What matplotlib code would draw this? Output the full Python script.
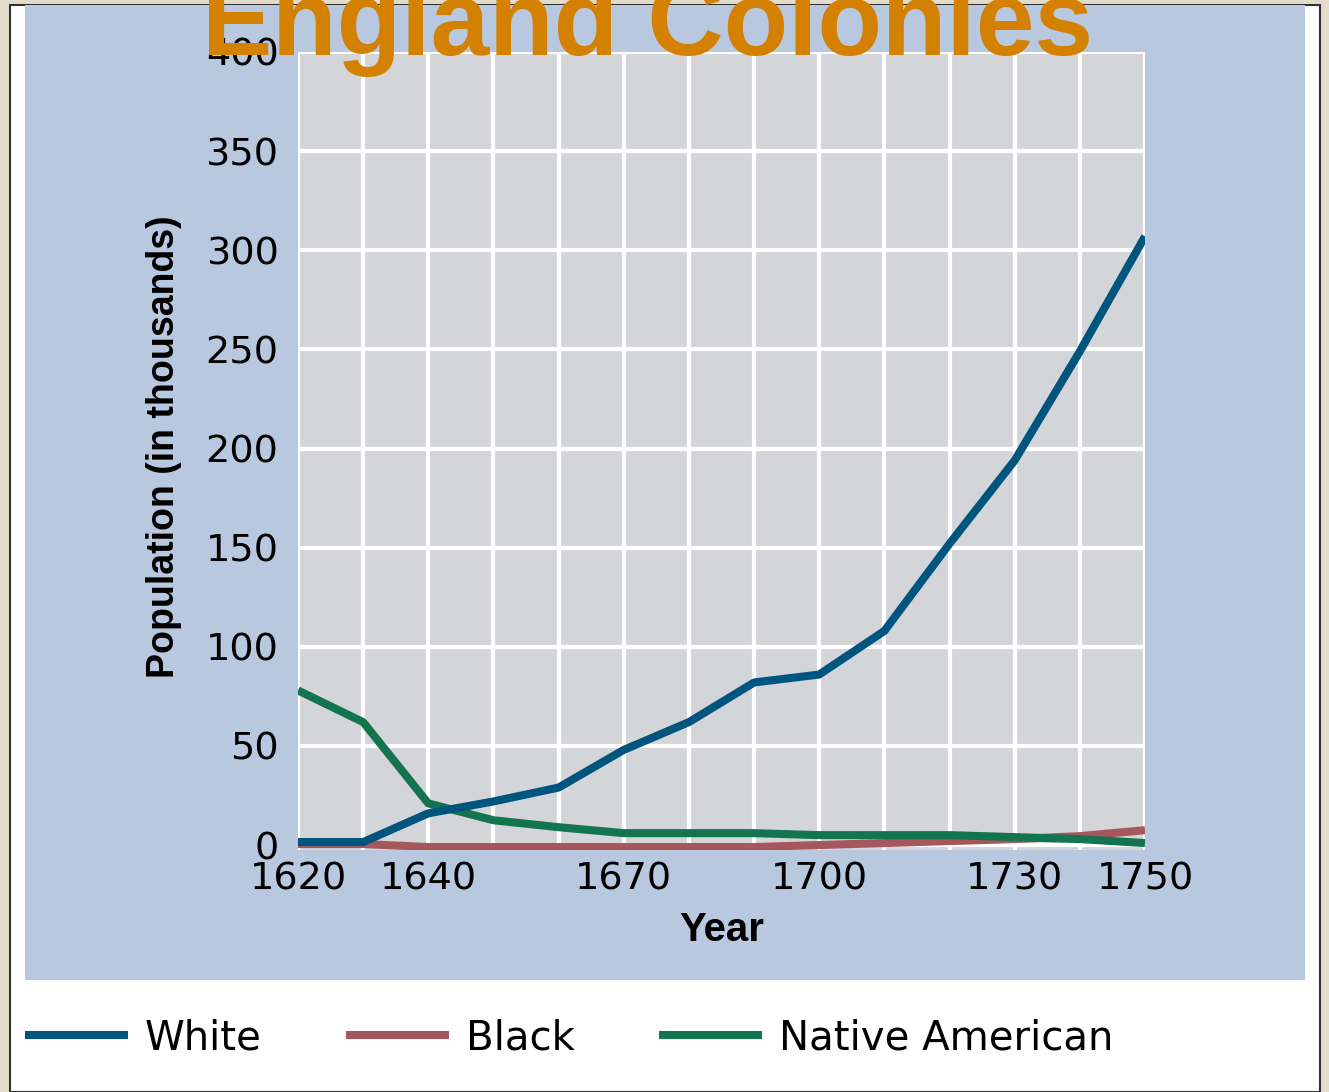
import matplotlib
matplotlib.use("Agg")
import matplotlib.pyplot as plt
from matplotlib.patches import Rectangle

# data (population in thousands)
years = [1620, 1630, 1640, 1650, 1660, 1670, 1680, 1690, 1700, 1710, 1720, 1730, 1740, 1750]
white = [1.5, 1.5, 16, 22, 29, 48, 62, 82, 86, 108, 152, 194, 249, 307]
black = [0.5, 0.5, -1, -1, -1, -1, -1, -1, 0, 1, 2, 3, 4.5, 7.5]
native = [78, 62, 21, 12.5, 9, 6, 6, 6, 5, 5, 5, 4, 3, 1]

xticks = [1620, 1640, 1670, 1700, 1730, 1750]
yticks = [0, 50, 100, 150, 200, 250, 300, 350, 400]

W, H = 1329, 1092
fig = plt.figure(figsize=(W / 100, H / 100), dpi=100, facecolor="#e4dccb")

def box(x0, y0, x1, y1, **kw):
    # pixel box (top-left origin) -> figure rectangle
    r = Rectangle((x0 / W, 1 - y1 / H), (x1 - x0) / W, (y1 - y0) / H,
                  transform=fig.transFigure, zorder=-10, **kw)
    fig.patches.append(r)

box(10, 5, 1320, 1092, facecolor="white", edgecolor="#333333", linewidth=1.5)
box(25, 5, 1305, 980, facecolor="#b8c8df", edgecolor="none")

ax = fig.add_axes([298 / W, 1 - 850 / H, 847 / W, 798 / H])
ax.set_facecolor("#d4d5d8")
for s in ax.spines.values():
    s.set_visible(False)

ax.set_xlim(1620, 1750)
ax.set_ylim(-2.5, 400)
ax.set_xticks(range(1630, 1750, 10), minor=True)
ax.set_xticks(xticks)
ax.set_yticks(yticks)
ax.grid(True, which="both", axis="x", color="white", linewidth=3)
ax.grid(True, axis="y", color="white", linewidth=3)
ax.set_axisbelow(True)
ax.tick_params(which="both", length=0)
ax.tick_params(axis="y", pad=14, labelsize=27.5)
ax.tick_params(axis="x", pad=8, labelsize=27.5)
for lab in ax.get_xticklabels() + ax.get_yticklabels():
    lab.set_family("DejaVu Sans")

lw = 5.8
l1, = ax.plot(years, white, color="#00557f", linewidth=lw, label="White", solid_capstyle="butt")
l2, = ax.plot(years, black, color="#a5575c", linewidth=lw, label="Black", solid_capstyle="butt")
l3, = ax.plot(years, native, color="#137450", linewidth=lw, label="Native American", solid_capstyle="butt")
l1.set_zorder(4)

ax.set_ylabel("Population (in thousands)", fontsize=27, fontweight="bold",
              family="Liberation Sans")
ax.yaxis.set_label_coords(-0.137, 0.505)
ax.set_xlabel("Year", fontsize=29, fontweight="bold", family="Liberation Sans")
ax.xaxis.set_label_coords(0.5, -0.077)

leg = fig.legend(handles=[l1, l2, l3], loc="center left",
                 bbox_to_anchor=(25 / W, 1 - 1038 / H), ncol=3, frameon=False,
                 prop={"family": "DejaVu Sans", "size": 29},
                 borderpad=0, borderaxespad=0,
                 handlelength=2.55, handletextpad=0.42, columnspacing=2.1)

fig.text(648 / W, 1 - 55 / H, "England Colonies", color="#d48000",
         fontsize=76, fontweight="bold", family="Liberation Sans",
         ha="center", va="baseline")

fig.savefig("out.png", dpi=100, facecolor=fig.get_facecolor())
